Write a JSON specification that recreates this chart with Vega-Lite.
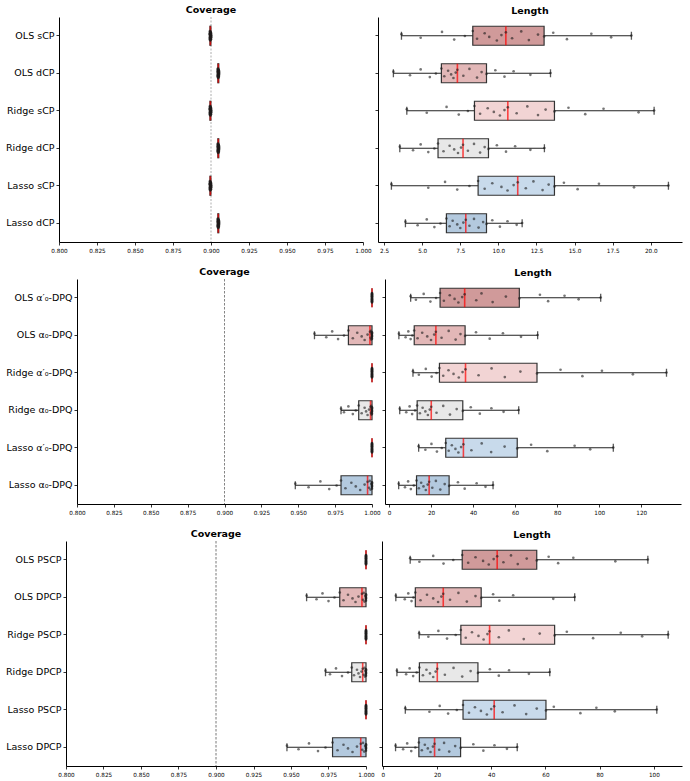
{
"$schema": "https://vega.github.io/schema/vega-lite/v6.json",
"padding": {"left": 1, "top": 5, "right": 5, "bottom": 5},
"config": {
 "view": {"stroke": null},
 "font": "DejaVu Sans",
 "axis": {"grid": false, "domainColor": "#000", "domainWidth": 1, "tickColor": "#000", "tickWidth": 0.8, "tickSize": 3, "labelColor": "#000", "labelFont": "DejaVu Sans", "labelPadding": 2},
 "axisX": {"labelFontSize": 5.7, "labelFlush": false, "labelOverlap": false},
 "axisY": {"labelFontSize": 9.5, "bandPosition": 0.5},
 "title": {"font": "DejaVu Sans", "fontSize": 9.5, "fontWeight": "bold", "anchor": "middle", "frame": "group", "offset": 2, "color": "#000"}
},
"datasets": {
 "s1": [
  {"m":"OLS sCP","c0":0.899,"c1":0.8993,"c2":0.8996,"c3":0.8999,"c4":0.9003,"l0":3.64,"l1":8.32,"l2":10.49,"l3":13.0,"l4":18.73},
  {"m":"OLS dCP","c0":0.9042,"c1":0.9045,"c2":0.9048,"c3":0.9051,"c4":0.9055,"l0":3.11,"l1":6.26,"l2":7.31,"l3":9.22,"l4":13.42},
  {"m":"Ridge sCP","c0":0.899,"c1":0.8993,"c2":0.8996,"c3":0.8999,"c4":0.9003,"l0":3.99,"l1":8.43,"l2":10.62,"l3":13.68,"l4":20.22},
  {"m":"Ridge dCP","c0":0.9042,"c1":0.9045,"c2":0.9048,"c3":0.9051,"c4":0.9055,"l0":3.53,"l1":6.04,"l2":7.68,"l3":9.35,"l4":13.02},
  {"m":"Lasso sCP","c0":0.899,"c1":0.8993,"c2":0.8996,"c3":0.8999,"c4":0.9003,"l0":2.98,"l1":8.67,"l2":11.27,"l3":13.68,"l4":21.16},
  {"m":"Lasso dCP","c0":0.9042,"c1":0.9045,"c2":0.9048,"c3":0.9051,"c4":0.9055,"l0":3.9,"l1":6.59,"l2":7.86,"l3":9.22,"l4":11.56}
 ],
 "s2": [
  {"m":"OLS α′₀-DPQ","c0":1,"c1":1,"c2":1,"c3":1,"c4":1,"l0":10.3,"l1":24.3,"l2":36.0,"l3":62.0,"l4":100.7},
  {"m":"OLS α₀-DPQ","c0":0.961,"c1":0.984,"c2":0.9986,"c3":1,"c4":1,"l0":4.7,"l1":12.0,"l2":22.3,"l3":36.2,"l4":70.7},
  {"m":"Ridge α′₀-DPQ","c0":1,"c1":1,"c2":1,"c3":1,"c4":1,"l0":11.4,"l1":24.0,"l2":36.4,"l3":70.4,"l4":132.0},
  {"m":"Ridge α₀-DPQ","c0":0.979,"c1":0.991,"c2":0.999,"c3":1,"c4":1,"l0":5.1,"l1":13.4,"l2":20.1,"l3":35.1,"l4":61.7},
  {"m":"Lasso α′₀-DPQ","c0":1,"c1":1,"c2":1,"c3":1,"c4":1,"l0":14.1,"l1":27.0,"l2":35.4,"l3":61.0,"l4":106.7},
  {"m":"Lasso α₀-DPQ","c0":0.948,"c1":0.979,"c2":0.997,"c3":1,"c4":1,"l0":4.6,"l1":13.1,"l2":19.1,"l3":28.6,"l4":49.5}
 ],
 "s3": [
  {"m":"OLS PSCP","c0":1,"c1":1,"c2":1,"c3":1,"c4":1,"l0":10.1,"l1":29.3,"l2":42.2,"l3":56.8,"l4":97.8},
  {"m":"OLS DPCP","c0":0.9604,"c1":0.9825,"c2":0.9973,"c3":1,"c4":1,"l0":4.8,"l1":12.0,"l2":22.3,"l3":36.3,"l4":70.8},
  {"m":"Ridge PSCP","c0":1,"c1":1,"c2":1,"c3":1,"c4":1,"l0":13.4,"l1":28.8,"l2":39.4,"l3":63.4,"l4":105.3},
  {"m":"Ridge DPCP","c0":0.973,"c1":0.9905,"c2":0.9978,"c3":1,"c4":1,"l0":5.2,"l1":13.5,"l2":20.1,"l3":35.1,"l4":61.6},
  {"m":"Lasso PSCP","c0":1,"c1":1,"c2":1,"c3":1,"c4":1,"l0":8.3,"l1":29.6,"l2":41.1,"l3":60.2,"l4":101.1},
  {"m":"Lasso DPCP","c0":0.9473,"c1":0.9777,"c2":0.9965,"c3":1,"c4":1,"l0":4.7,"l1":13.3,"l2":19.1,"l3":28.7,"l4":49.6}
 ],
 "p1": [
  {"m":"OLS sCP","r":7,"l":3.64,"c":0.899},{"m":"OLS sCP","r":15,"l":4.9,"c":0.8991},{"m":"OLS sCP","r":2,"l":6.3,"c":0.8992},{"m":"OLS sCP","r":19,"l":7.1,"c":0.8992},{"m":"OLS sCP","r":11,"l":7.8,"c":0.8993},{"m":"OLS sCP","r":0,"l":8.32,"c":0.8993},{"m":"OLS sCP","r":17,"l":8.6,"c":0.8994},{"m":"OLS sCP","r":5,"l":9.1,"c":0.8994},{"m":"OLS sCP","r":13,"l":9.4,"c":0.8995},{"m":"OLS sCP","r":21,"l":9.9,"c":0.8995},{"m":"OLS sCP","r":9,"l":10.2,"c":0.8996},{"m":"OLS sCP","r":3,"l":10.49,"c":0.8996},{"m":"OLS sCP","r":16,"l":10.9,"c":0.8997},{"m":"OLS sCP","r":1,"l":11.5,"c":0.8997},{"m":"OLS sCP","r":20,"l":12.0,"c":0.8998},{"m":"OLS sCP","r":8,"l":12.6,"c":0.8998},{"m":"OLS sCP","r":12,"l":13.0,"c":0.8999},{"m":"OLS sCP","r":4,"l":13.6,"c":0.8999},{"m":"OLS sCP","r":18,"l":14.5,"c":0.9},{"m":"OLS sCP","r":6,"l":16.1,"c":0.9001},{"m":"OLS sCP","r":14,"l":17.4,"c":0.9002},{"m":"OLS sCP","r":10,"l":18.73,"c":0.9003},
  {"m":"OLS dCP","r":7,"l":3.11,"c":0.9042},{"m":"OLS dCP","r":15,"l":4.2,"c":0.9043},{"m":"OLS dCP","r":2,"l":4.9,"c":0.9044},{"m":"OLS dCP","r":19,"l":5.5,"c":0.9044},{"m":"OLS dCP","r":11,"l":5.9,"c":0.9045},{"m":"OLS dCP","r":0,"l":6.26,"c":0.9045},{"m":"OLS dCP","r":17,"l":6.45,"c":0.9046},{"m":"OLS dCP","r":5,"l":6.7,"c":0.9046},{"m":"OLS dCP","r":13,"l":6.9,"c":0.9047},{"m":"OLS dCP","r":21,"l":7.05,"c":0.9047},{"m":"OLS dCP","r":9,"l":7.2,"c":0.9048},{"m":"OLS dCP","r":3,"l":7.31,"c":0.9048},{"m":"OLS dCP","r":16,"l":7.7,"c":0.9049},{"m":"OLS dCP","r":1,"l":8.1,"c":0.9049},{"m":"OLS dCP","r":20,"l":8.6,"c":0.905},{"m":"OLS dCP","r":8,"l":8.9,"c":0.905},{"m":"OLS dCP","r":12,"l":9.22,"c":0.9051},{"m":"OLS dCP","r":4,"l":9.8,"c":0.9051},{"m":"OLS dCP","r":18,"l":10.4,"c":0.9052},{"m":"OLS dCP","r":6,"l":11.0,"c":0.9053},{"m":"OLS dCP","r":14,"l":12.1,"c":0.9054},{"m":"OLS dCP","r":10,"l":13.42,"c":0.9055},
  {"m":"Ridge sCP","r":7,"l":3.99,"c":0.899},{"m":"Ridge sCP","r":15,"l":5.3,"c":0.8991},{"m":"Ridge sCP","r":2,"l":6.6,"c":0.8992},{"m":"Ridge sCP","r":19,"l":7.4,"c":0.8992},{"m":"Ridge sCP","r":11,"l":8.0,"c":0.8993},{"m":"Ridge sCP","r":0,"l":8.43,"c":0.8993},{"m":"Ridge sCP","r":17,"l":8.8,"c":0.8994},{"m":"Ridge sCP","r":5,"l":9.3,"c":0.8994},{"m":"Ridge sCP","r":13,"l":9.7,"c":0.8995},{"m":"Ridge sCP","r":21,"l":10.1,"c":0.8995},{"m":"Ridge sCP","r":9,"l":10.4,"c":0.8996},{"m":"Ridge sCP","r":3,"l":10.62,"c":0.8996},{"m":"Ridge sCP","r":16,"l":11.2,"c":0.8997},{"m":"Ridge sCP","r":1,"l":11.9,"c":0.8997},{"m":"Ridge sCP","r":20,"l":12.6,"c":0.8998},{"m":"Ridge sCP","r":8,"l":13.1,"c":0.8998},{"m":"Ridge sCP","r":12,"l":13.68,"c":0.8999},{"m":"Ridge sCP","r":4,"l":14.6,"c":0.8999},{"m":"Ridge sCP","r":18,"l":15.7,"c":0.9},{"m":"Ridge sCP","r":6,"l":16.9,"c":0.9001},{"m":"Ridge sCP","r":14,"l":19.2,"c":0.9002},{"m":"Ridge sCP","r":10,"l":20.22,"c":0.9003},
  {"m":"Ridge dCP","r":7,"l":3.53,"c":0.9042},{"m":"Ridge dCP","r":15,"l":4.4,"c":0.9043},{"m":"Ridge dCP","r":2,"l":4.9,"c":0.9044},{"m":"Ridge dCP","r":19,"l":5.4,"c":0.9044},{"m":"Ridge dCP","r":11,"l":5.8,"c":0.9045},{"m":"Ridge dCP","r":0,"l":6.04,"c":0.9045},{"m":"Ridge dCP","r":17,"l":6.4,"c":0.9046},{"m":"Ridge dCP","r":5,"l":6.8,"c":0.9046},{"m":"Ridge dCP","r":13,"l":7.1,"c":0.9047},{"m":"Ridge dCP","r":21,"l":7.35,"c":0.9047},{"m":"Ridge dCP","r":9,"l":7.55,"c":0.9048},{"m":"Ridge dCP","r":3,"l":7.68,"c":0.9048},{"m":"Ridge dCP","r":16,"l":8.0,"c":0.9049},{"m":"Ridge dCP","r":1,"l":8.4,"c":0.9049},{"m":"Ridge dCP","r":20,"l":8.8,"c":0.905},{"m":"Ridge dCP","r":8,"l":9.1,"c":0.905},{"m":"Ridge dCP","r":12,"l":9.35,"c":0.9051},{"m":"Ridge dCP","r":4,"l":9.9,"c":0.9051},{"m":"Ridge dCP","r":18,"l":10.5,"c":0.9052},{"m":"Ridge dCP","r":6,"l":11.1,"c":0.9053},{"m":"Ridge dCP","r":14,"l":12.1,"c":0.9054},{"m":"Ridge dCP","r":10,"l":13.02,"c":0.9055},
  {"m":"Lasso sCP","r":7,"l":2.98,"c":0.899},{"m":"Lasso sCP","r":15,"l":5.4,"c":0.8991},{"m":"Lasso sCP","r":2,"l":6.5,"c":0.8992},{"m":"Lasso sCP","r":19,"l":7.3,"c":0.8992},{"m":"Lasso sCP","r":11,"l":8.1,"c":0.8993},{"m":"Lasso sCP","r":0,"l":8.67,"c":0.8993},{"m":"Lasso sCP","r":17,"l":9.1,"c":0.8994},{"m":"Lasso sCP","r":5,"l":9.6,"c":0.8994},{"m":"Lasso sCP","r":13,"l":10.2,"c":0.8995},{"m":"Lasso sCP","r":21,"l":10.6,"c":0.8995},{"m":"Lasso sCP","r":9,"l":11.0,"c":0.8996},{"m":"Lasso sCP","r":3,"l":11.27,"c":0.8996},{"m":"Lasso sCP","r":16,"l":11.8,"c":0.8997},{"m":"Lasso sCP","r":1,"l":12.3,"c":0.8997},{"m":"Lasso sCP","r":20,"l":12.9,"c":0.8998},{"m":"Lasso sCP","r":8,"l":13.3,"c":0.8998},{"m":"Lasso sCP","r":12,"l":13.68,"c":0.8999},{"m":"Lasso sCP","r":4,"l":14.3,"c":0.8999},{"m":"Lasso sCP","r":18,"l":15.2,"c":0.9},{"m":"Lasso sCP","r":6,"l":16.6,"c":0.9001},{"m":"Lasso sCP","r":14,"l":18.9,"c":0.9002},{"m":"Lasso sCP","r":10,"l":21.16,"c":0.9003},
  {"m":"Lasso dCP","r":7,"l":3.9,"c":0.9042},{"m":"Lasso dCP","r":15,"l":4.7,"c":0.9043},{"m":"Lasso dCP","r":2,"l":5.3,"c":0.9044},{"m":"Lasso dCP","r":19,"l":5.8,"c":0.9044},{"m":"Lasso dCP","r":11,"l":6.2,"c":0.9045},{"m":"Lasso dCP","r":0,"l":6.59,"c":0.9045},{"m":"Lasso dCP","r":17,"l":6.8,"c":0.9046},{"m":"Lasso dCP","r":5,"l":7.0,"c":0.9046},{"m":"Lasso dCP","r":13,"l":7.3,"c":0.9047},{"m":"Lasso dCP","r":21,"l":7.5,"c":0.9047},{"m":"Lasso dCP","r":9,"l":7.7,"c":0.9048},{"m":"Lasso dCP","r":3,"l":7.86,"c":0.9048},{"m":"Lasso dCP","r":16,"l":8.1,"c":0.9049},{"m":"Lasso dCP","r":1,"l":8.4,"c":0.9049},{"m":"Lasso dCP","r":20,"l":8.7,"c":0.905},{"m":"Lasso dCP","r":8,"l":9.0,"c":0.905},{"m":"Lasso dCP","r":12,"l":9.22,"c":0.9051},{"m":"Lasso dCP","r":4,"l":9.6,"c":0.9051},{"m":"Lasso dCP","r":18,"l":10.1,"c":0.9052},{"m":"Lasso dCP","r":6,"l":10.6,"c":0.9053},{"m":"Lasso dCP","r":14,"l":11.2,"c":0.9054},{"m":"Lasso dCP","r":10,"l":11.56,"c":0.9055}
 ],
 "p2": [
  {"m":"OLS α′₀-DPQ","r":7,"l":10.3,"c":1},{"m":"OLS α′₀-DPQ","r":15,"l":12.8,"c":1},{"m":"OLS α′₀-DPQ","r":2,"l":16.5,"c":1},{"m":"OLS α′₀-DPQ","r":19,"l":19.7,"c":1},{"m":"OLS α′₀-DPQ","r":11,"l":22.4,"c":1},{"m":"OLS α′₀-DPQ","r":0,"l":24.3,"c":1},{"m":"OLS α′₀-DPQ","r":17,"l":26.1,"c":1},{"m":"OLS α′₀-DPQ","r":5,"l":28.9,"c":1},{"m":"OLS α′₀-DPQ","r":13,"l":31.2,"c":1},{"m":"OLS α′₀-DPQ","r":21,"l":33.0,"c":1},{"m":"OLS α′₀-DPQ","r":9,"l":34.8,"c":1},{"m":"OLS α′₀-DPQ","r":3,"l":36.0,"c":1},{"m":"OLS α′₀-DPQ","r":16,"l":41.5,"c":1},{"m":"OLS α′₀-DPQ","r":1,"l":44.0,"c":1},{"m":"OLS α′₀-DPQ","r":20,"l":49.3,"c":1},{"m":"OLS α′₀-DPQ","r":8,"l":55.6,"c":1},{"m":"OLS α′₀-DPQ","r":12,"l":62.0,"c":1},{"m":"OLS α′₀-DPQ","r":4,"l":71.8,"c":1},{"m":"OLS α′₀-DPQ","r":18,"l":75.7,"c":1},{"m":"OLS α′₀-DPQ","r":6,"l":83.5,"c":1},{"m":"OLS α′₀-DPQ","r":14,"l":90.2,"c":1},{"m":"OLS α′₀-DPQ","r":10,"l":100.7,"c":1},
  {"m":"OLS α₀-DPQ","r":7,"l":4.7,"c":0.961},{"m":"OLS α₀-DPQ","r":15,"l":7.9,"c":0.969},{"m":"OLS α₀-DPQ","r":2,"l":9.2,"c":0.973},{"m":"OLS α₀-DPQ","r":19,"l":10.3,"c":0.977},{"m":"OLS α₀-DPQ","r":11,"l":11.1,"c":0.981},{"m":"OLS α₀-DPQ","r":0,"l":12.0,"c":0.984},{"m":"OLS α₀-DPQ","r":17,"l":13.6,"c":0.987},{"m":"OLS α₀-DPQ","r":5,"l":15.8,"c":0.99},{"m":"OLS α₀-DPQ","r":13,"l":18.2,"c":0.993},{"m":"OLS α₀-DPQ","r":21,"l":20.0,"c":0.995},{"m":"OLS α₀-DPQ","r":9,"l":21.5,"c":0.997},{"m":"OLS α₀-DPQ","r":3,"l":22.3,"c":0.9986},{"m":"OLS α₀-DPQ","r":16,"l":25.0,"c":0.999},{"m":"OLS α₀-DPQ","r":1,"l":28.4,"c":0.9993},{"m":"OLS α₀-DPQ","r":20,"l":31.7,"c":0.9995},{"m":"OLS α₀-DPQ","r":8,"l":34.0,"c":0.9998},{"m":"OLS α₀-DPQ","r":12,"l":36.2,"c":1},{"m":"OLS α₀-DPQ","r":4,"l":41.4,"c":1},{"m":"OLS α₀-DPQ","r":18,"l":47.9,"c":1},{"m":"OLS α₀-DPQ","r":6,"l":54.2,"c":1},{"m":"OLS α₀-DPQ","r":14,"l":62.8,"c":1},{"m":"OLS α₀-DPQ","r":10,"l":70.7,"c":1},
  {"m":"Ridge α′₀-DPQ","r":7,"l":11.4,"c":1},{"m":"Ridge α′₀-DPQ","r":15,"l":14.2,"c":1},{"m":"Ridge α′₀-DPQ","r":2,"l":17.5,"c":1},{"m":"Ridge α′₀-DPQ","r":19,"l":20.3,"c":1},{"m":"Ridge α′₀-DPQ","r":11,"l":22.6,"c":1},{"m":"Ridge α′₀-DPQ","r":0,"l":24.0,"c":1},{"m":"Ridge α′₀-DPQ","r":17,"l":25.8,"c":1},{"m":"Ridge α′₀-DPQ","r":5,"l":28.3,"c":1},{"m":"Ridge α′₀-DPQ","r":13,"l":30.7,"c":1},{"m":"Ridge α′₀-DPQ","r":21,"l":33.2,"c":1},{"m":"Ridge α′₀-DPQ","r":9,"l":35.0,"c":1},{"m":"Ridge α′₀-DPQ","r":3,"l":36.4,"c":1},{"m":"Ridge α′₀-DPQ","r":16,"l":42.6,"c":1},{"m":"Ridge α′₀-DPQ","r":1,"l":48.8,"c":1},{"m":"Ridge α′₀-DPQ","r":20,"l":55.1,"c":1},{"m":"Ridge α′₀-DPQ","r":8,"l":62.5,"c":1},{"m":"Ridge α′₀-DPQ","r":12,"l":70.4,"c":1},{"m":"Ridge α′₀-DPQ","r":4,"l":81.6,"c":1},{"m":"Ridge α′₀-DPQ","r":18,"l":92.0,"c":1},{"m":"Ridge α′₀-DPQ","r":6,"l":101.3,"c":1},{"m":"Ridge α′₀-DPQ","r":14,"l":116.0,"c":1},{"m":"Ridge α′₀-DPQ","r":10,"l":132.0,"c":1},
  {"m":"Ridge α₀-DPQ","r":7,"l":5.1,"c":0.979},{"m":"Ridge α₀-DPQ","r":15,"l":8.2,"c":0.981},{"m":"Ridge α₀-DPQ","r":2,"l":9.8,"c":0.984},{"m":"Ridge α₀-DPQ","r":19,"l":11.0,"c":0.987},{"m":"Ridge α₀-DPQ","r":11,"l":12.4,"c":0.989},{"m":"Ridge α₀-DPQ","r":0,"l":13.4,"c":0.991},{"m":"Ridge α₀-DPQ","r":17,"l":14.7,"c":0.993},{"m":"Ridge α₀-DPQ","r":5,"l":16.0,"c":0.995},{"m":"Ridge α₀-DPQ","r":13,"l":17.3,"c":0.996},{"m":"Ridge α₀-DPQ","r":21,"l":18.5,"c":0.997},{"m":"Ridge α₀-DPQ","r":9,"l":19.4,"c":0.998},{"m":"Ridge α₀-DPQ","r":3,"l":20.1,"c":0.999},{"m":"Ridge α₀-DPQ","r":16,"l":22.6,"c":0.9993},{"m":"Ridge α₀-DPQ","r":1,"l":25.8,"c":0.9995},{"m":"Ridge α₀-DPQ","r":20,"l":29.0,"c":0.9997},{"m":"Ridge α₀-DPQ","r":8,"l":32.2,"c":0.9999},{"m":"Ridge α₀-DPQ","r":12,"l":35.1,"c":1},{"m":"Ridge α₀-DPQ","r":4,"l":38.9,"c":1},{"m":"Ridge α₀-DPQ","r":18,"l":43.2,"c":1},{"m":"Ridge α₀-DPQ","r":6,"l":48.7,"c":1},{"m":"Ridge α₀-DPQ","r":14,"l":54.5,"c":1},{"m":"Ridge α₀-DPQ","r":10,"l":61.7,"c":1},
  {"m":"Lasso α′₀-DPQ","r":7,"l":14.1,"c":1},{"m":"Lasso α′₀-DPQ","r":15,"l":17.3,"c":1},{"m":"Lasso α′₀-DPQ","r":2,"l":20.2,"c":1},{"m":"Lasso α′₀-DPQ","r":19,"l":22.8,"c":1},{"m":"Lasso α′₀-DPQ","r":11,"l":25.1,"c":1},{"m":"Lasso α′₀-DPQ","r":0,"l":27.0,"c":1},{"m":"Lasso α′₀-DPQ","r":17,"l":28.4,"c":1},{"m":"Lasso α′₀-DPQ","r":5,"l":29.9,"c":1},{"m":"Lasso α′₀-DPQ","r":13,"l":31.6,"c":1},{"m":"Lasso α′₀-DPQ","r":21,"l":33.0,"c":1},{"m":"Lasso α′₀-DPQ","r":9,"l":34.3,"c":1},{"m":"Lasso α′₀-DPQ","r":3,"l":35.4,"c":1},{"m":"Lasso α′₀-DPQ","r":16,"l":39.2,"c":1},{"m":"Lasso α′₀-DPQ","r":1,"l":44.1,"c":1},{"m":"Lasso α′₀-DPQ","r":20,"l":48.6,"c":1},{"m":"Lasso α′₀-DPQ","r":8,"l":55.0,"c":1},{"m":"Lasso α′₀-DPQ","r":12,"l":61.0,"c":1},{"m":"Lasso α′₀-DPQ","r":4,"l":67.6,"c":1},{"m":"Lasso α′₀-DPQ","r":18,"l":75.3,"c":1},{"m":"Lasso α′₀-DPQ","r":6,"l":88.3,"c":1},{"m":"Lasso α′₀-DPQ","r":14,"l":95.7,"c":1},{"m":"Lasso α′₀-DPQ","r":10,"l":106.7,"c":1},
  {"m":"Lasso α₀-DPQ","r":7,"l":4.6,"c":0.948},{"m":"Lasso α₀-DPQ","r":15,"l":7.6,"c":0.957},{"m":"Lasso α₀-DPQ","r":2,"l":9.1,"c":0.965},{"m":"Lasso α₀-DPQ","r":19,"l":10.4,"c":0.971},{"m":"Lasso α₀-DPQ","r":11,"l":11.8,"c":0.976},{"m":"Lasso α₀-DPQ","r":0,"l":13.1,"c":0.979},{"m":"Lasso α₀-DPQ","r":17,"l":14.2,"c":0.982},{"m":"Lasso α₀-DPQ","r":5,"l":15.3,"c":0.986},{"m":"Lasso α₀-DPQ","r":13,"l":16.4,"c":0.989},{"m":"Lasso α₀-DPQ","r":21,"l":17.5,"c":0.992},{"m":"Lasso α₀-DPQ","r":9,"l":18.4,"c":0.995},{"m":"Lasso α₀-DPQ","r":3,"l":19.1,"c":0.997},{"m":"Lasso α₀-DPQ","r":16,"l":20.6,"c":0.998},{"m":"Lasso α₀-DPQ","r":1,"l":22.3,"c":0.9985},{"m":"Lasso α₀-DPQ","r":20,"l":24.4,"c":0.999},{"m":"Lasso α₀-DPQ","r":8,"l":26.5,"c":0.9995},{"m":"Lasso α₀-DPQ","r":12,"l":28.6,"c":1},{"m":"Lasso α₀-DPQ","r":4,"l":32.8,"c":1},{"m":"Lasso α₀-DPQ","r":18,"l":36.0,"c":1},{"m":"Lasso α₀-DPQ","r":6,"l":41.7,"c":1},{"m":"Lasso α₀-DPQ","r":14,"l":45.9,"c":1},{"m":"Lasso α₀-DPQ","r":10,"l":49.5,"c":1}
 ],
 "p3": [
  {"m":"OLS PSCP","r":7,"l":10.1,"c":1},{"m":"OLS PSCP","r":15,"l":13.5,"c":1},{"m":"OLS PSCP","r":2,"l":18.6,"c":1},{"m":"OLS PSCP","r":19,"l":22.4,"c":1},{"m":"OLS PSCP","r":11,"l":26.0,"c":1},{"m":"OLS PSCP","r":0,"l":29.3,"c":1},{"m":"OLS PSCP","r":17,"l":31.5,"c":1},{"m":"OLS PSCP","r":5,"l":34.2,"c":1},{"m":"OLS PSCP","r":13,"l":37.0,"c":1},{"m":"OLS PSCP","r":21,"l":39.1,"c":1},{"m":"OLS PSCP","r":9,"l":40.9,"c":1},{"m":"OLS PSCP","r":3,"l":42.2,"c":1},{"m":"OLS PSCP","r":16,"l":44.5,"c":1},{"m":"OLS PSCP","r":1,"l":47.3,"c":1},{"m":"OLS PSCP","r":20,"l":49.8,"c":1},{"m":"OLS PSCP","r":8,"l":53.1,"c":1},{"m":"OLS PSCP","r":12,"l":56.8,"c":1},{"m":"OLS PSCP","r":4,"l":61.2,"c":1},{"m":"OLS PSCP","r":18,"l":64.7,"c":1},{"m":"OLS PSCP","r":6,"l":70.3,"c":1},{"m":"OLS PSCP","r":14,"l":85.8,"c":1},{"m":"OLS PSCP","r":10,"l":97.8,"c":1},
  {"m":"OLS DPCP","r":7,"l":4.8,"c":0.9604},{"m":"OLS DPCP","r":15,"l":8.1,"c":0.967},{"m":"OLS DPCP","r":2,"l":9.4,"c":0.971},{"m":"OLS DPCP","r":19,"l":10.6,"c":0.975},{"m":"OLS DPCP","r":11,"l":11.3,"c":0.979},{"m":"OLS DPCP","r":0,"l":12.0,"c":0.9825},{"m":"OLS DPCP","r":17,"l":13.9,"c":0.985},{"m":"OLS DPCP","r":5,"l":16.3,"c":0.988},{"m":"OLS DPCP","r":13,"l":18.6,"c":0.991},{"m":"OLS DPCP","r":21,"l":20.4,"c":0.993},{"m":"OLS DPCP","r":9,"l":21.6,"c":0.995},{"m":"OLS DPCP","r":3,"l":22.3,"c":0.9973},{"m":"OLS DPCP","r":16,"l":24.8,"c":0.998},{"m":"OLS DPCP","r":1,"l":27.9,"c":0.9985},{"m":"OLS DPCP","r":20,"l":31.0,"c":0.999},{"m":"OLS DPCP","r":8,"l":34.2,"c":0.9995},{"m":"OLS DPCP","r":12,"l":36.3,"c":1},{"m":"OLS DPCP","r":4,"l":40.7,"c":1},{"m":"OLS DPCP","r":18,"l":43.0,"c":1},{"m":"OLS DPCP","r":6,"l":48.1,"c":1},{"m":"OLS DPCP","r":14,"l":62.9,"c":1},{"m":"OLS DPCP","r":10,"l":70.8,"c":1},
  {"m":"Ridge PSCP","r":7,"l":13.4,"c":1},{"m":"Ridge PSCP","r":15,"l":16.8,"c":1},{"m":"Ridge PSCP","r":2,"l":20.5,"c":1},{"m":"Ridge PSCP","r":19,"l":23.7,"c":1},{"m":"Ridge PSCP","r":11,"l":26.9,"c":1},{"m":"Ridge PSCP","r":0,"l":28.8,"c":1},{"m":"Ridge PSCP","r":17,"l":30.6,"c":1},{"m":"Ridge PSCP","r":5,"l":32.9,"c":1},{"m":"Ridge PSCP","r":13,"l":35.3,"c":1},{"m":"Ridge PSCP","r":21,"l":37.2,"c":1},{"m":"Ridge PSCP","r":9,"l":38.6,"c":1},{"m":"Ridge PSCP","r":3,"l":39.4,"c":1},{"m":"Ridge PSCP","r":16,"l":42.8,"c":1},{"m":"Ridge PSCP","r":1,"l":46.5,"c":1},{"m":"Ridge PSCP","r":20,"l":52.0,"c":1},{"m":"Ridge PSCP","r":8,"l":57.9,"c":1},{"m":"Ridge PSCP","r":12,"l":63.4,"c":1},{"m":"Ridge PSCP","r":4,"l":67.9,"c":1},{"m":"Ridge PSCP","r":18,"l":77.6,"c":1},{"m":"Ridge PSCP","r":6,"l":87.8,"c":1},{"m":"Ridge PSCP","r":14,"l":95.7,"c":1},{"m":"Ridge PSCP","r":10,"l":105.3,"c":1},
  {"m":"Ridge DPCP","r":7,"l":5.2,"c":0.973},{"m":"Ridge DPCP","r":15,"l":8.6,"c":0.976},{"m":"Ridge DPCP","r":2,"l":9.9,"c":0.98},{"m":"Ridge DPCP","r":19,"l":11.2,"c":0.984},{"m":"Ridge DPCP","r":11,"l":12.5,"c":0.988},{"m":"Ridge DPCP","r":0,"l":13.5,"c":0.9905},{"m":"Ridge DPCP","r":17,"l":14.8,"c":0.992},{"m":"Ridge DPCP","r":5,"l":16.1,"c":0.994},{"m":"Ridge DPCP","r":13,"l":17.4,"c":0.995},{"m":"Ridge DPCP","r":21,"l":18.6,"c":0.996},{"m":"Ridge DPCP","r":9,"l":19.5,"c":0.997},{"m":"Ridge DPCP","r":3,"l":20.1,"c":0.9978},{"m":"Ridge DPCP","r":16,"l":22.9,"c":0.9985},{"m":"Ridge DPCP","r":1,"l":26.1,"c":0.999},{"m":"Ridge DPCP","r":20,"l":29.3,"c":0.9993},{"m":"Ridge DPCP","r":8,"l":32.4,"c":0.9996},{"m":"Ridge DPCP","r":12,"l":35.1,"c":1},{"m":"Ridge DPCP","r":4,"l":39.5,"c":1},{"m":"Ridge DPCP","r":18,"l":42.8,"c":1},{"m":"Ridge DPCP","r":6,"l":46.6,"c":1},{"m":"Ridge DPCP","r":14,"l":53.9,"c":1},{"m":"Ridge DPCP","r":10,"l":61.6,"c":1},
  {"m":"Lasso PSCP","r":7,"l":8.3,"c":1},{"m":"Lasso PSCP","r":15,"l":17.2,"c":1},{"m":"Lasso PSCP","r":2,"l":21.0,"c":1},{"m":"Lasso PSCP","r":19,"l":24.1,"c":1},{"m":"Lasso PSCP","r":11,"l":27.3,"c":1},{"m":"Lasso PSCP","r":0,"l":29.6,"c":1},{"m":"Lasso PSCP","r":17,"l":31.8,"c":1},{"m":"Lasso PSCP","r":5,"l":34.0,"c":1},{"m":"Lasso PSCP","r":13,"l":36.2,"c":1},{"m":"Lasso PSCP","r":21,"l":38.4,"c":1},{"m":"Lasso PSCP","r":9,"l":40.0,"c":1},{"m":"Lasso PSCP","r":3,"l":41.1,"c":1},{"m":"Lasso PSCP","r":16,"l":44.2,"c":1},{"m":"Lasso PSCP","r":1,"l":48.6,"c":1},{"m":"Lasso PSCP","r":20,"l":52.9,"c":1},{"m":"Lasso PSCP","r":8,"l":56.8,"c":1},{"m":"Lasso PSCP","r":12,"l":60.2,"c":1},{"m":"Lasso PSCP","r":4,"l":63.1,"c":1},{"m":"Lasso PSCP","r":18,"l":72.9,"c":1},{"m":"Lasso PSCP","r":6,"l":78.8,"c":1},{"m":"Lasso PSCP","r":14,"l":85.6,"c":1},{"m":"Lasso PSCP","r":10,"l":101.1,"c":1},
  {"m":"Lasso DPCP","r":7,"l":4.7,"c":0.9473},{"m":"Lasso DPCP","r":15,"l":7.5,"c":0.955},{"m":"Lasso DPCP","r":2,"l":9.0,"c":0.962},{"m":"Lasso DPCP","r":19,"l":10.5,"c":0.968},{"m":"Lasso DPCP","r":11,"l":12.0,"c":0.973},{"m":"Lasso DPCP","r":0,"l":13.3,"c":0.9777},{"m":"Lasso DPCP","r":17,"l":14.4,"c":0.981},{"m":"Lasso DPCP","r":5,"l":15.5,"c":0.985},{"m":"Lasso DPCP","r":13,"l":16.6,"c":0.988},{"m":"Lasso DPCP","r":21,"l":17.6,"c":0.991},{"m":"Lasso DPCP","r":9,"l":18.5,"c":0.994},{"m":"Lasso DPCP","r":3,"l":19.1,"c":0.9965},{"m":"Lasso DPCP","r":16,"l":20.8,"c":0.9975},{"m":"Lasso DPCP","r":1,"l":22.6,"c":0.998},{"m":"Lasso DPCP","r":20,"l":24.5,"c":0.9988},{"m":"Lasso DPCP","r":8,"l":26.7,"c":0.9994},{"m":"Lasso DPCP","r":12,"l":28.7,"c":1},{"m":"Lasso DPCP","r":4,"l":33.4,"c":1},{"m":"Lasso DPCP","r":18,"l":37.1,"c":1},{"m":"Lasso DPCP","r":6,"l":41.2,"c":1},{"m":"Lasso DPCP","r":14,"l":45.8,"c":1},{"m":"Lasso DPCP","r":10,"l":49.6,"c":1}
 ]
},
"spacing": 14,
"vconcat": [
 {"spacing": 3, "hconcat": [
  {"width": 1, "height": 1, "data": {"values": []}, "mark": {"type": "point", "opacity": 0}, "encoding": {}},
  {"spacing": 2, "hconcat": [
  {"title": "Coverage", "width": 304, "height": 225, "layer": [
   {"data": {"values": [{}]}, "mark": {"type": "rule", "color": "#9a9a9a", "strokeDash": [2, 1.5], "strokeWidth": 0.8}, "encoding": {"x": {"datum": 0.9, "type": "quantitative", "title": null, "scale": {"domain": [0.8, 1.0], "nice": false, "zero": false}, "axis": {"values": [0.8, 0.825, 0.85, 0.875, 0.9, 0.925, 0.95, 0.975, 1.0], "format": ".3f", "labelOverlap": false}}}},
   {"data": {"name": "s1"}, "encoding": {"y": {"field": "m", "type": "nominal", "title": null, "sort": ["OLS sCP","OLS dCP","Ridge sCP","Ridge dCP","Lasso sCP","Lasso dCP"], "scale": {"paddingInner": 0, "paddingOuter": 0}}}, "layer": [
    {"mark": {"type": "rule", "color": "#222", "strokeWidth": 1.2}, "encoding": {"x": {"field": "c0", "type": "quantitative", "title": null, "axis": {"values": [0.8, 0.825, 0.85, 0.875, 0.9, 0.925, 0.95, 0.975, 1.0], "format": ".3f", "labelOverlap": false}}, "x2": {"field": "c4"}}},
    {"mark": {"type": "bar", "size": 19, "stroke": "#333", "strokeWidth": 1.2}, "encoding": {"x": {"field": "c1", "type": "quantitative", "title": null, "axis": {"values": [0.8, 0.825, 0.85, 0.875, 0.9, 0.925, 0.95, 0.975, 1.0], "format": ".3f", "labelOverlap": false}}, "x2": {"field": "c3"}, "color": {"field": "m", "type": "nominal", "legend": null, "scale": {"domain": ["OLS sCP","OLS dCP","Ridge sCP","Ridge dCP","Lasso sCP","Lasso dCP"], "range": ["#d09a9a","#e2b7b7","#f2d4d4","#e8e8e8","#c8daeb","#b3c9de"]}}}},
    {"mark": {"type": "tick", "size": 8, "thickness": 1.3, "color": "#111"}, "encoding": {"x": {"field": "c0", "type": "quantitative", "title": null, "axis": {"values": [0.8, 0.825, 0.85, 0.875, 0.9, 0.925, 0.95, 0.975, 1.0], "format": ".3f", "labelOverlap": false}}}},
    {"mark": {"type": "tick", "size": 8, "thickness": 1.3, "color": "#111"}, "encoding": {"x": {"field": "c4", "type": "quantitative", "title": null, "axis": {"values": [0.8, 0.825, 0.85, 0.875, 0.9, 0.925, 0.95, 0.975, 1.0], "format": ".3f", "labelOverlap": false}}}},
    {"mark": {"type": "tick", "size": 19, "thickness": 1.6, "color": "#ff0000"}, "encoding": {"x": {"field": "c2", "type": "quantitative", "title": null, "axis": {"values": [0.8, 0.825, 0.85, 0.875, 0.9, 0.925, 0.95, 0.975, 1.0], "format": ".3f", "labelOverlap": false}}}},
    {"data": {"name": "p1"}, "mark": {"type": "circle", "size": 7, "color": "#1a1a1a", "opacity": 0.6}, "encoding": {"x": {"field": "c", "type": "quantitative", "title": null, "axis": {"values": [0.8, 0.825, 0.85, 0.875, 0.9, 0.925, 0.95, 0.975, 1.0], "format": ".3f", "labelOverlap": false}}, "yOffset": {"field": "r", "type": "ordinal", "scale": {"range": [13.75, 23.75]}}}}
   ]}
  ]},
  {"title": "Length", "width": 304, "height": 225, "data": {"name": "s1"}, "encoding": {"y": {"field": "m", "type": "nominal", "title": null, "sort": ["OLS sCP","OLS dCP","Ridge sCP","Ridge dCP","Lasso sCP","Lasso dCP"], "scale": {"paddingInner": 0, "paddingOuter": 0}, "axis": {"labels": false}}}, "layer": [
    {"mark": {"type": "rule", "color": "#222", "strokeWidth": 1.2}, "encoding": {"x": {"field": "l0", "type": "quantitative", "title": null, "scale": {"domain": [2.1, 22.05], "nice": false, "zero": false}, "axis": {"values": [2.5, 5, 7.5, 10, 12.5, 15, 17.5, 20], "format": ".1f", "labelOverlap": false}}, "x2": {"field": "l4"}}},
    {"mark": {"type": "bar", "size": 19, "stroke": "#333", "strokeWidth": 1.2}, "encoding": {"x": {"field": "l1", "type": "quantitative", "title": null}, "x2": {"field": "l3"}, "color": {"field": "m", "type": "nominal", "legend": null, "scale": {"domain": ["OLS sCP","OLS dCP","Ridge sCP","Ridge dCP","Lasso sCP","Lasso dCP"], "range": ["#d09a9a","#e2b7b7","#f2d4d4","#e8e8e8","#c8daeb","#b3c9de"]}}}},
    {"mark": {"type": "tick", "size": 8, "thickness": 1.3, "color": "#111"}, "encoding": {"x": {"field": "l0", "type": "quantitative", "title": null}}},
    {"mark": {"type": "tick", "size": 8, "thickness": 1.3, "color": "#111"}, "encoding": {"x": {"field": "l4", "type": "quantitative", "title": null}}},
    {"mark": {"type": "tick", "size": 19, "thickness": 1.6, "color": "#ff0000"}, "encoding": {"x": {"field": "l2", "type": "quantitative", "title": null}}},
    {"data": {"name": "p1"}, "mark": {"type": "circle", "size": 7, "color": "#1a1a1a", "opacity": 0.6}, "encoding": {"x": {"field": "l", "type": "quantitative", "title": null}, "yOffset": {"field": "r", "type": "ordinal", "scale": {"range": [13.75, 23.75]}}}}
  ]}
 ]}]},
 {"spacing": 3, "hconcat": [
  {"width": 1, "height": 1, "data": {"values": []}, "mark": {"type": "point", "opacity": 0}, "encoding": {}},
  {"spacing": 0, "hconcat": [
  {"title": "Coverage", "width": 295, "height": 225, "layer": [
   {"data": {"values": [{}]}, "mark": {"type": "rule", "color": "#666", "strokeDash": [2.5, 1.5], "strokeWidth": 0.8}, "encoding": {"x": {"datum": 0.9, "type": "quantitative", "title": null, "scale": {"domain": [0.8, 1.0], "nice": false, "zero": false}, "axis": {"values": [0.8, 0.825, 0.85, 0.875, 0.9, 0.925, 0.95, 0.975, 1.0], "format": ".3f", "labelOverlap": false}}}},
   {"data": {"name": "s2"}, "encoding": {"y": {"field": "m", "type": "nominal", "title": null, "sort": ["OLS α′₀-DPQ","OLS α₀-DPQ","Ridge α′₀-DPQ","Ridge α₀-DPQ","Lasso α′₀-DPQ","Lasso α₀-DPQ"], "scale": {"paddingInner": 0, "paddingOuter": 0}}}, "layer": [
    {"mark": {"type": "rule", "color": "#222", "strokeWidth": 1.2}, "encoding": {"x": {"field": "c0", "type": "quantitative", "title": null, "axis": {"values": [0.8, 0.825, 0.85, 0.875, 0.9, 0.925, 0.95, 0.975, 1.0], "format": ".3f", "labelOverlap": false}}, "x2": {"field": "c4"}}},
    {"mark": {"type": "bar", "size": 19, "stroke": "#333", "strokeWidth": 1.2}, "encoding": {"x": {"field": "c1", "type": "quantitative", "title": null, "axis": {"values": [0.8, 0.825, 0.85, 0.875, 0.9, 0.925, 0.95, 0.975, 1.0], "format": ".3f", "labelOverlap": false}}, "x2": {"field": "c3"}, "color": {"field": "m", "type": "nominal", "legend": null, "scale": {"domain": ["OLS α′₀-DPQ","OLS α₀-DPQ","Ridge α′₀-DPQ","Ridge α₀-DPQ","Lasso α′₀-DPQ","Lasso α₀-DPQ"], "range": ["#d09a9a","#e2b7b7","#f2d4d4","#e8e8e8","#c8daeb","#b3c9de"]}}}},
    {"mark": {"type": "tick", "size": 8, "thickness": 1.3, "color": "#111"}, "encoding": {"x": {"field": "c0", "type": "quantitative", "title": null, "axis": {"values": [0.8, 0.825, 0.85, 0.875, 0.9, 0.925, 0.95, 0.975, 1.0], "format": ".3f", "labelOverlap": false}}}},
    {"mark": {"type": "tick", "size": 8, "thickness": 1.3, "color": "#111"}, "encoding": {"x": {"field": "c4", "type": "quantitative", "title": null, "axis": {"values": [0.8, 0.825, 0.85, 0.875, 0.9, 0.925, 0.95, 0.975, 1.0], "format": ".3f", "labelOverlap": false}}}},
    {"mark": {"type": "tick", "size": 19, "thickness": 1.6, "color": "#ff0000"}, "encoding": {"x": {"field": "c2", "type": "quantitative", "title": null, "axis": {"values": [0.8, 0.825, 0.85, 0.875, 0.9, 0.925, 0.95, 0.975, 1.0], "format": ".3f", "labelOverlap": false}}}},
    {"data": {"name": "p2"}, "mark": {"type": "circle", "size": 7, "color": "#1a1a1a", "opacity": 0.6}, "encoding": {"x": {"field": "c", "type": "quantitative", "title": null, "axis": {"values": [0.8, 0.825, 0.85, 0.875, 0.9, 0.925, 0.95, 0.975, 1.0], "format": ".3f", "labelOverlap": false}}, "yOffset": {"field": "r", "type": "ordinal", "scale": {"range": [13.75, 23.75]}}}}
   ]}
  ]},
  {"title": "Length", "width": 296, "height": 225, "data": {"name": "s2"}, "encoding": {"y": {"field": "m", "type": "nominal", "title": null, "sort": ["OLS α′₀-DPQ","OLS α₀-DPQ","Ridge α′₀-DPQ","Ridge α₀-DPQ","Lasso α′₀-DPQ","Lasso α₀-DPQ"], "scale": {"paddingInner": 0, "paddingOuter": 0}, "axis": {"labels": false}}}, "layer": [
    {"mark": {"type": "rule", "color": "#222", "strokeWidth": 1.2}, "encoding": {"x": {"field": "l0", "type": "quantitative", "title": null, "scale": {"domain": [-1.9, 138.9], "nice": false, "zero": false}, "axis": {"values": [0, 20, 40, 60, 80, 100, 120], "format": "d", "labelOverlap": false}}, "x2": {"field": "l4"}}},
    {"mark": {"type": "bar", "size": 19, "stroke": "#333", "strokeWidth": 1.2}, "encoding": {"x": {"field": "l1", "type": "quantitative", "title": null}, "x2": {"field": "l3"}, "color": {"field": "m", "type": "nominal", "legend": null, "scale": {"domain": ["OLS α′₀-DPQ","OLS α₀-DPQ","Ridge α′₀-DPQ","Ridge α₀-DPQ","Lasso α′₀-DPQ","Lasso α₀-DPQ"], "range": ["#d09a9a","#e2b7b7","#f2d4d4","#e8e8e8","#c8daeb","#b3c9de"]}}}},
    {"mark": {"type": "tick", "size": 8, "thickness": 1.3, "color": "#111"}, "encoding": {"x": {"field": "l0", "type": "quantitative", "title": null}}},
    {"mark": {"type": "tick", "size": 8, "thickness": 1.3, "color": "#111"}, "encoding": {"x": {"field": "l4", "type": "quantitative", "title": null}}},
    {"mark": {"type": "tick", "size": 19, "thickness": 1.6, "color": "#ff0000"}, "encoding": {"x": {"field": "l2", "type": "quantitative", "title": null}}},
    {"data": {"name": "p2"}, "mark": {"type": "circle", "size": 7, "color": "#1a1a1a", "opacity": 0.6}, "encoding": {"x": {"field": "l", "type": "quantitative", "title": null}, "yOffset": {"field": "r", "type": "ordinal", "scale": {"range": [13.75, 23.75]}}}}
  ]}
 ]}]},
 {"spacing": 3, "hconcat": [
  {"width": 1, "height": 1, "data": {"values": []}, "mark": {"type": "point", "opacity": 0}, "encoding": {}},
  {"spacing": 3, "hconcat": [
  {"title": "Coverage", "width": 300, "height": 225, "layer": [
   {"data": {"values": [{}]}, "mark": {"type": "rule", "color": "#555", "strokeDash": [2.5, 1.5], "strokeWidth": 0.8}, "encoding": {"x": {"datum": 0.9, "type": "quantitative", "title": null, "scale": {"domain": [0.8, 1.0], "nice": false, "zero": false}, "axis": {"values": [0.8, 0.825, 0.85, 0.875, 0.9, 0.925, 0.95, 0.975, 1.0], "format": ".3f", "labelOverlap": false}}}},
   {"data": {"name": "s3"}, "encoding": {"y": {"field": "m", "type": "nominal", "title": null, "sort": ["OLS PSCP","OLS DPCP","Ridge PSCP","Ridge DPCP","Lasso PSCP","Lasso DPCP"], "scale": {"paddingInner": 0, "paddingOuter": 0}}}, "layer": [
    {"mark": {"type": "rule", "color": "#222", "strokeWidth": 1.2}, "encoding": {"x": {"field": "c0", "type": "quantitative", "title": null, "axis": {"values": [0.8, 0.825, 0.85, 0.875, 0.9, 0.925, 0.95, 0.975, 1.0], "format": ".3f", "labelOverlap": false}}, "x2": {"field": "c4"}}},
    {"mark": {"type": "bar", "size": 19, "stroke": "#333", "strokeWidth": 1.2}, "encoding": {"x": {"field": "c1", "type": "quantitative", "title": null, "axis": {"values": [0.8, 0.825, 0.85, 0.875, 0.9, 0.925, 0.95, 0.975, 1.0], "format": ".3f", "labelOverlap": false}}, "x2": {"field": "c3"}, "color": {"field": "m", "type": "nominal", "legend": null, "scale": {"domain": ["OLS PSCP","OLS DPCP","Ridge PSCP","Ridge DPCP","Lasso PSCP","Lasso DPCP"], "range": ["#d09a9a","#e2b7b7","#f2d4d4","#e8e8e8","#c8daeb","#b3c9de"]}}}},
    {"mark": {"type": "tick", "size": 8, "thickness": 1.3, "color": "#111"}, "encoding": {"x": {"field": "c0", "type": "quantitative", "title": null, "axis": {"values": [0.8, 0.825, 0.85, 0.875, 0.9, 0.925, 0.95, 0.975, 1.0], "format": ".3f", "labelOverlap": false}}}},
    {"mark": {"type": "tick", "size": 8, "thickness": 1.3, "color": "#111"}, "encoding": {"x": {"field": "c4", "type": "quantitative", "title": null, "axis": {"values": [0.8, 0.825, 0.85, 0.875, 0.9, 0.925, 0.95, 0.975, 1.0], "format": ".3f", "labelOverlap": false}}}},
    {"mark": {"type": "tick", "size": 19, "thickness": 1.6, "color": "#ff0000"}, "encoding": {"x": {"field": "c2", "type": "quantitative", "title": null, "axis": {"values": [0.8, 0.825, 0.85, 0.875, 0.9, 0.925, 0.95, 0.975, 1.0], "format": ".3f", "labelOverlap": false}}}},
    {"data": {"name": "p3"}, "mark": {"type": "circle", "size": 7, "color": "#1a1a1a", "opacity": 0.6}, "encoding": {"x": {"field": "c", "type": "quantitative", "title": null, "axis": {"values": [0.8, 0.825, 0.85, 0.875, 0.9, 0.925, 0.95, 0.975, 1.0], "format": ".3f", "labelOverlap": false}}, "yOffset": {"field": "r", "type": "ordinal", "scale": {"range": [13.75, 23.75]}}}}
   ]}
  ]},
  {"title": "Length", "width": 300, "height": 225, "data": {"name": "s3"}, "encoding": {"y": {"field": "m", "type": "nominal", "title": null, "sort": ["OLS PSCP","OLS DPCP","Ridge PSCP","Ridge DPCP","Lasso PSCP","Lasso DPCP"], "scale": {"paddingInner": 0, "paddingOuter": 0}, "axis": {"labels": false}}}, "layer": [
    {"mark": {"type": "rule", "color": "#222", "strokeWidth": 1.2}, "encoding": {"x": {"field": "l0", "type": "quantitative", "title": null, "scale": {"domain": [-0.3, 110.4], "nice": false, "zero": false}, "axis": {"values": [0, 20, 40, 60, 80, 100], "format": "d", "labelOverlap": false}}, "x2": {"field": "l4"}}},
    {"mark": {"type": "bar", "size": 19, "stroke": "#333", "strokeWidth": 1.2}, "encoding": {"x": {"field": "l1", "type": "quantitative", "title": null}, "x2": {"field": "l3"}, "color": {"field": "m", "type": "nominal", "legend": null, "scale": {"domain": ["OLS PSCP","OLS DPCP","Ridge PSCP","Ridge DPCP","Lasso PSCP","Lasso DPCP"], "range": ["#d09a9a","#e2b7b7","#f2d4d4","#e8e8e8","#c8daeb","#b3c9de"]}}}},
    {"mark": {"type": "tick", "size": 8, "thickness": 1.3, "color": "#111"}, "encoding": {"x": {"field": "l0", "type": "quantitative", "title": null}}},
    {"mark": {"type": "tick", "size": 8, "thickness": 1.3, "color": "#111"}, "encoding": {"x": {"field": "l4", "type": "quantitative", "title": null}}},
    {"mark": {"type": "tick", "size": 19, "thickness": 1.6, "color": "#ff0000"}, "encoding": {"x": {"field": "l2", "type": "quantitative", "title": null}}},
    {"data": {"name": "p3"}, "mark": {"type": "circle", "size": 7, "color": "#1a1a1a", "opacity": 0.6}, "encoding": {"x": {"field": "l", "type": "quantitative", "title": null}, "yOffset": {"field": "r", "type": "ordinal", "scale": {"range": [13.75, 23.75]}}}}
  ]}
 ]}]}
]
}
